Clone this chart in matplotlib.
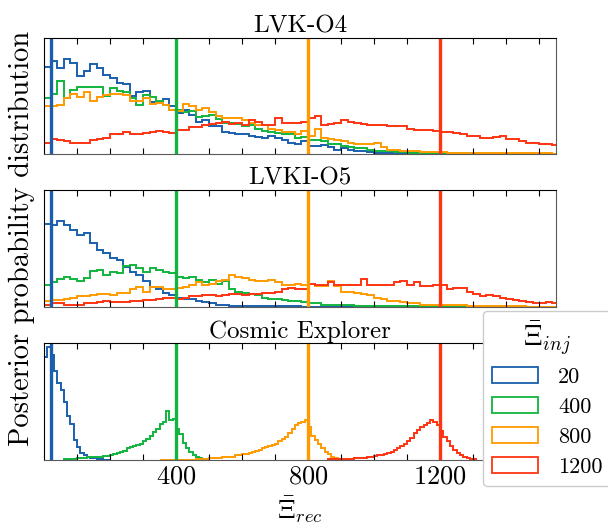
import numpy as np
import matplotlib
matplotlib.use("Agg")
import matplotlib.pyplot as plt
from matplotlib.patches import Patch

plt.rcParams['font.family'] = 'serif'
plt.rcParams['font.serif'] = ['cmr10', 'DejaVu Serif']
plt.rcParams['mathtext.fontset'] = 'cm'
plt.rcParams['axes.formatter.use_mathtext'] = True

# injected values and colours
xi_inj = [20, 400, 800, 1200]
labels = ['20', '400', '800', '1200']
colors = ['#1a5fad', '#12b43e', '#ff9a00', '#ff3412']
titles = ['LVK-O4', 'LVKI-O5', 'Cosmic Explorer']

# LVK-O4 and LVKI-O5 : bins of width 20 from 0 to 1560
wide_bin = 20
o4_20 = [75, 80, 74, 82, 78, 67, 71, 77, 74, 68, 65, 61, 60, 50, 53, 54, 45, 44, 47, 41,
         35, 38, 34, 28, 29, 24, 24, 19, 18, 17,
         17, 16, 15, 14, 16, 14, 12, 10, 9, 11, 7, 7, 8, 6, 4, 5, 4, 3, 3, 2,
         1.5, 1, 1, 1, 1, 1, 0.8, 0.8, 0.6, 0.6, 0.5, 0.5, 0.4, 0.4, 0.4, 0.3, 0.3, 0.3, 0.3, 0.2,
         0.2, 0.2, 0.2, 0.2, 0.1, 0.1, 0.1, 0.1]
o4_400 = [48, 52, 63, 48, 55, 58, 58, 58, 58, 50, 57, 54, 53, 48, 42, 51, 49, 46, 42, 38,
          38, 36, 37, 32, 33, 34, 30, 27, 27, 26,
          24, 25, 22, 20, 19, 18, 17, 17, 14, 15, 12, 12, 11, 9, 9, 7, 6, 5, 5, 4,
          3, 3, 2.5, 2, 2, 1.5, 1.5, 1.5, 1.2, 1.2, 1, 1, 1, 0.8, 0.8, 0.8, 0.6, 0.6, 0.6, 0.5,
          0.5, 0.5, 0.4, 0.4, 0.4, 0.3, 0.3, 0.3]
o4_800 = [41, 41, 42, 48, 52, 49, 53, 46, 49, 51, 52, 52, 51, 46, 46, 48, 43, 44, 42, 38,
          37, 43, 41, 38, 40, 36, 33, 31, 31, 31,
          29, 27, 25, 25, 22, 21, 19, 19, 17, 20, 16, 22, 14, 13, 12, 11, 10, 9, 9, 9,
          10, 6, 4, 4, 3, 3, 3, 2, 2, 2, 2, 1.5, 1.5, 1.5, 1.5, 1.2, 1.2, 1.2, 1, 1,
          1, 1, 1, 0.8, 0.8, 1.5, 0.8, 0.6]
o4_1200 = [10, 13, 12, 11, 10, 10, 10, 12, 13, 14, 17, 17, 19, 17, 17, 18, 19, 20, 19, 18,
           21, 21, 23, 23, 25, 26, 27, 28, 26, 27,
           25, 29, 28, 25, 25, 31, 27, 27, 27, 28, 31, 33, 25, 26, 27, 29, 28, 27, 26, 25,
           25, 25, 24, 24, 24, 22, 21, 21, 21, 20, 19, 19, 18, 17, 16, 16, 14, 14, 15, 16,
           13, 13, 11, 10, 10, 9, 9, 8]

o5_20 = [71, 70, 74, 70, 66, 62, 63, 55, 49, 46, 42, 40, 34, 30, 27, 22, 17, 15, 12, 10,
         8, 7, 7, 5, 4, 3, 2, 2, 1, 1,
         0.8, 0.8, 0.8, 1, 0.7, 0.6, 0.5, 0.5, 0.5, 0.4, 0.4, 0.4, 0.3, 0.3, 0.3, 0.3, 0.2, 0.2, 0.2, 0.2,
         0.2, 0.2, 0.1, 0.1, 0.1, 0.1, 0.1, 0.1, 0.1, 0.1, 0.1, 0.1, 0.1, 0.1, 0.1, 0.1, 0.1, 0.1, 0.1, 0.1,
         0.1, 0.1, 0.1, 0.1, 0.1, 0.1, 0.1, 0.1]
o5_400 = [19, 21, 24, 26, 24, 22, 25, 31, 32, 27, 30, 29, 35, 36, 33, 30, 33, 32, 30, 29,
          26, 25, 26, 23, 21, 23, 20, 22, 15, 13,
          12, 11, 10, 8, 7, 7, 6, 5, 5, 4, 3, 3, 2, 2, 1.5, 1.5, 1.5, 1.2, 1.2, 1,
          1, 1, 0.8, 0.8, 0.8, 0.6, 0.6, 0.6, 0.5, 0.5, 0.5, 0.4, 0.4, 0.4, 0.3, 0.3, 0.3, 0.3, 0.2, 0.2,
          0.2, 0.2, 0.2, 0.1, 0.1, 0.1, 0.1, 0.1]
o5_800 = [5, 6, 6, 7, 8, 9, 9, 10, 11, 11, 10, 12, 12, 15, 17, 13, 17, 17, 15, 15,
          16, 17, 19, 21, 19, 20, 22, 23, 27, 26,
          25, 23, 22, 22, 23, 21, 19, 19, 20, 19, 20, 18, 18, 22, 18, 13, 13, 12, 11, 10,
          8, 7, 5, 5, 4, 3, 3, 2, 2, 2, 2, 2, 2, 1.5, 1, 1, 1, 0.8, 0.8, 0.6,
          0.5, 0.5, 0.5, 0.4, 0.4, 0.3, 0.3, 0.3]
o5_1200 = [2, 3, 3, 2, 2, 2, 3, 3, 4, 5, 4, 4, 4, 5, 5, 6, 6, 7, 8, 8,
           7, 8, 9, 9, 10, 10, 9, 10, 11, 11,
           10, 11, 11, 12, 12, 13, 15, 16, 15, 15, 20, 19, 19, 21, 19, 19, 19, 19, 24, 19,
           19, 19, 19, 21, 22, 19, 21, 18, 18, 19, 19, 15, 16, 16, 13, 11, 9, 10, 9, 8,
           7, 6, 5, 4, 3, 3, 4, 3]

# Cosmic Explorer : bins of width 10, each series with its own start
fine_bin = 10
ce_start = [0, 60, 350, 860]
ce_20 = [88, 97, 90, 76, 66, 60, 50, 38, 31, 17, 11, 6, 4, 3, 2, 1.5, 1, 0.5, 0.3, 0.3]
ce_400 = [0.5, 0.5, 1, 1,
          1.5, 2, 2, 2.5, 2.5, 3, 3, 3, 3.5, 3.5,
          4, 5, 6, 7, 8, 10, 11, 12, 13, 14,
          16, 18, 21, 24, 27, 31, 33, 42, 34, 35,
          27, 22, 15, 10, 7, 4, 3, 2, 1, 0.5]
ce_800 = [0.3, 0.3, 0.3, 0.3, 0.3, 0.3, 0.3, 0.3, 0.3, 0.3, 0.3,
          1, 1, 1, 1, 1.5, 1.5, 1.5, 1.5, 2.5, 2.5, 2.5, 2.5, 4, 4,
          5, 5.5, 6, 7, 8, 8.5, 10, 11, 12, 13,
          14, 16, 18, 20, 23, 27, 30, 32, 33, 34,
          28, 21, 17, 14, 10, 7, 5, 3, 2, 1, 0.5, 0.5]
ce_1200 = [0.5, 0.5, 1, 1, 1, 1, 1, 1, 1.5, 1.5,
           2, 2, 2.5, 3,
           3.5, 4, 4, 5, 6, 7, 9, 10, 12, 14,
           16, 19, 23, 26, 28, 30, 32, 34, 33, 30,
           25, 20, 16, 12, 9, 6, 4, 2.5, 1.5, 1, 0.5]

fig = plt.figure(figsize=(6.08, 5.29), dpi=100)
left, width, height = 0.0724, 0.842, 0.2205
bottoms = [0.7083, 0.4197, 0.1304]
axes = [fig.add_axes([left, b, width, height]) for b in bottoms]

panels = [[o4_20, o4_400, o4_800, o4_1200], [o5_20, o5_400, o5_800, o5_1200]]
for ax, series in zip(axes[:2], panels):
    for vals, c in zip(series, colors):
        edges = np.arange(len(vals) + 1) * wide_bin
        ax.stairs(vals, edges, color=c, lw=1.4)

for vals, st, c in zip([ce_20, ce_400, ce_800, ce_1200], ce_start, colors):
    edges = st + np.arange(len(vals) + 1) * fine_bin
    axes[2].stairs(vals, edges, color=c, lw=1.4)

for i, ax in enumerate(axes):
    for x, c in zip(xi_inj, colors):
        ax.axvline(x, color=c, lw=2.4)
    ax.set_xlim(0, 1551)
    ax.set_ylim(0, 100)
    ax.set_yticks([])
    ax.set_xticks([400, 800, 1200])
    ax.set_xticks(np.arange(100, 1600, 100), minor=True)
    ax.tick_params(axis='x', which='both', direction='in', top=True, length=4, width=0.8,
                   labelsize=19)
    ax.spines['bottom'].set_color('0.35')
    ax.spines['right'].set_color('0.35')
    ax.set_title(titles[i], fontsize=18, pad=4)
    if i < 2:
        ax.tick_params(axis='x', labelbottom=False)

axes[2].set_xlabel(r'$\bar{\Xi}_{rec}$', fontsize=19, labelpad=4)
fig.text(0.036, 0.55, 'Posterior probability distribution', rotation=90,
         ha='center', va='center', fontsize=20.5)

handles = [Patch(facecolor='none', edgecolor=c, lw=1.3) for c in colors]
fig.legend(handles, labels, loc='upper left', bbox_to_anchor=(0.794, 0.413),
           borderaxespad=0, title=r'$\bar{\Xi}_{inj}$', title_fontsize=20, fontsize=16,
           handlelength=2.1, handleheight=0.75, labelspacing=0.45, handletextpad=0.9,
           borderpad=0.4, framealpha=1, edgecolor='0.8')

fig.savefig('out.png', dpi=100)
